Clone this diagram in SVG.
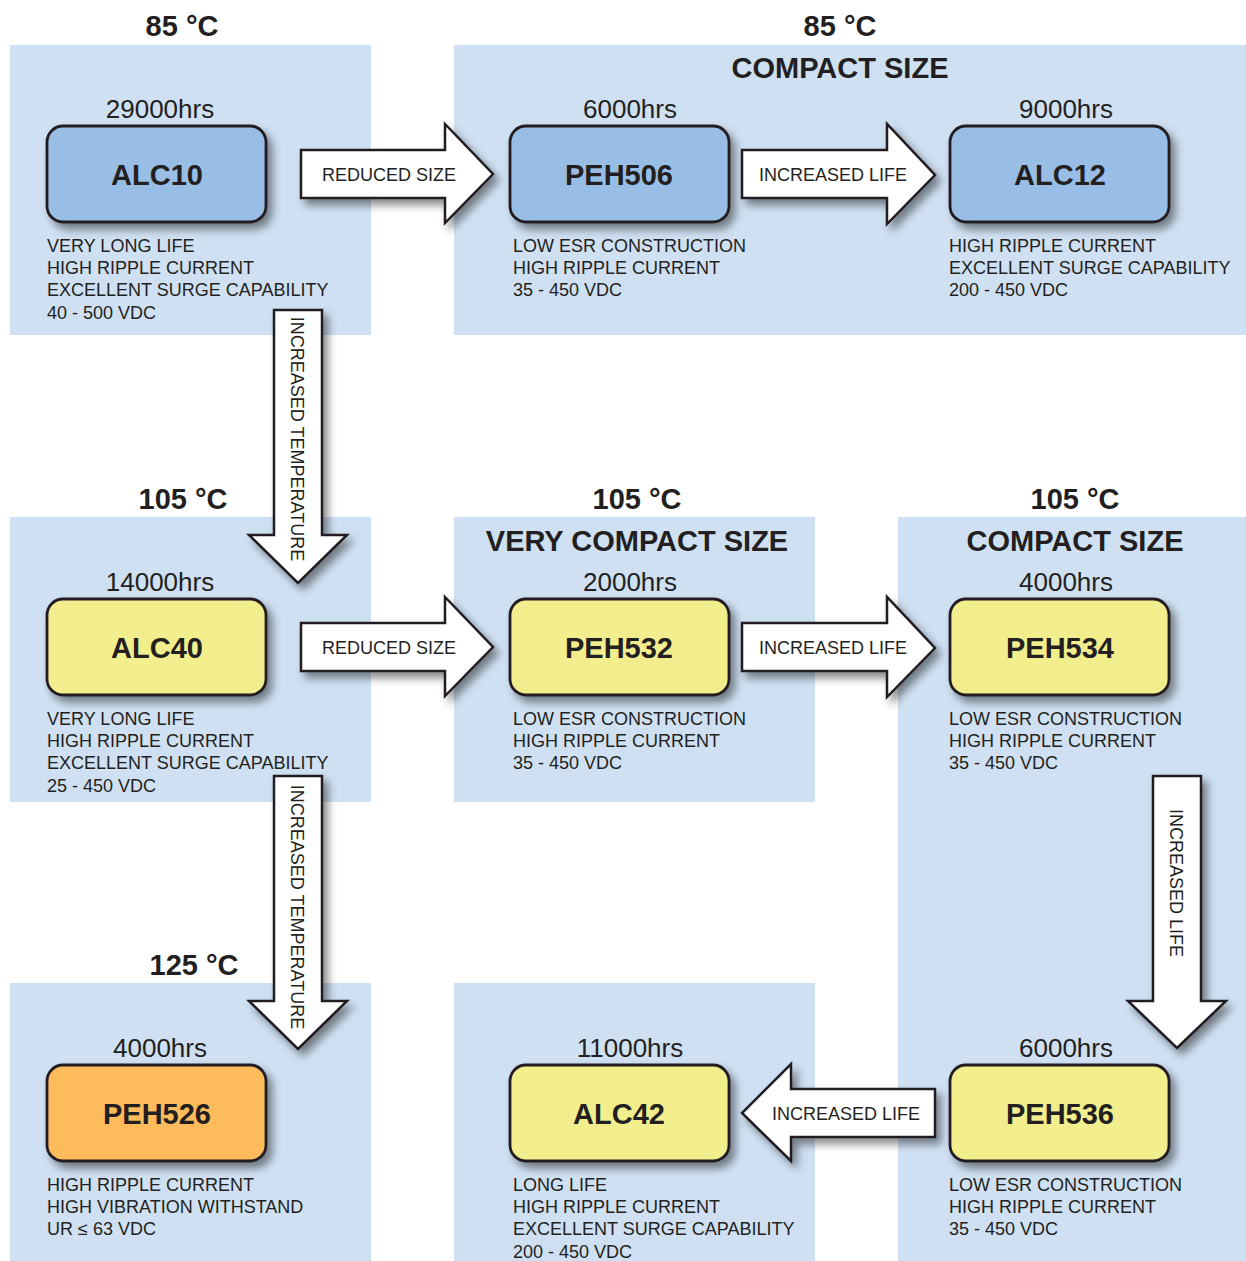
<svg xmlns="http://www.w3.org/2000/svg" width="1246" height="1261" viewBox="0 0 1246 1261">
<defs>
<filter id="sh" x="-20%" y="-20%" width="150%" height="150%">
<feDropShadow dx="5" dy="6" stdDeviation="4" flood-color="#000" flood-opacity="0.45"/>
</filter>
<style>
.panel{fill:#cee0f2}
.node{stroke:#231f20;stroke-width:2.8;filter:url(#sh)}
.blue{fill:#98bee5}
.yel{fill:#f2ee8e}
.org{fill:#fdbb5c}
.arr{fill:#fff;stroke:#231f20;stroke-width:2.5;stroke-linejoin:miter;filter:url(#sh)}
text{font-family:"Liberation Sans",Arial,Helvetica,sans-serif;fill:#231f20}
.hd{font-size:29px;font-weight:bold;text-anchor:middle}
.hrs{font-size:26px;text-anchor:middle}
.lbl{font-size:29px;font-weight:bold;text-anchor:middle}
.desc{font-size:18px}
.al{font-size:18px;text-anchor:middle}
</style>
</defs>
<rect width="1246" height="1261" fill="#fff"/>
<g id="panels">
<rect class="panel" x="10" y="45" width="361" height="290"/>
<rect class="panel" x="454" y="45" width="792" height="290"/>
<rect class="panel" x="10" y="517" width="361" height="285"/>
<rect class="panel" x="454" y="517" width="361" height="285"/>
<rect class="panel" x="898" y="517" width="348" height="744"/>
<rect class="panel" x="10" y="983" width="361" height="278"/>
<rect class="panel" x="454" y="983" width="361" height="278"/>
</g>
<g id="headers">
<text class="hd" x="182" y="36">85 °C</text>
<text class="hd" x="840" y="36">85 °C</text>
<text class="hd" x="840" y="78">COMPACT SIZE</text>
<text class="hd" x="183" y="509">105 °C</text>
<text class="hd" x="637" y="509">105 °C</text>
<text class="hd" x="637" y="551">VERY COMPACT SIZE</text>
<text class="hd" x="1075" y="509">105 °C</text>
<text class="hd" x="1075" y="551">COMPACT SIZE</text>
<text class="hd" x="194" y="975">125 °C</text>
</g>
<g id="connectors">
<g id="c1"><path class="arr" d="M301,150 H445 V124 L493,174 L445,223 V198 H301 Z"/><text class="al" x="389" y="181">REDUCED SIZE</text></g>
<g id="c2"><path class="arr" d="M742,150 H887 V124 L935,175 L887,224 V198 H742 Z"/><text class="al" x="833" y="181">INCREASED LIFE</text></g>
<g id="c3"><path class="arr" d="M301,623 H445 V597 L493,647 L445,696 V671 H301 Z"/><text class="al" x="389" y="654">REDUCED SIZE</text></g>
<g id="c4"><path class="arr" d="M742,623 H887 V597 L935,648 L887,697 V671 H742 Z"/><text class="al" x="833" y="654">INCREASED LIFE</text></g>
<g id="c5"><path class="arr" d="M274,310 H322 V535 H347 L298,583 L249,535 H274 Z"/><text class="al" transform="translate(291,439) rotate(90)">INCREASED TEMPERATURE</text></g>
<g id="c6"><path class="arr" d="M274,776 H322 V1001 H347 L298,1049 L249,1001 H274 Z"/><text class="al" transform="translate(291,907) rotate(90)">INCREASED TEMPERATURE</text></g>
<g id="c7"><path class="arr" d="M1153,776 H1201 V1001 H1226 L1177,1048 L1128,1001 H1153 Z"/><text class="al" transform="translate(1170,883) rotate(90)">INCREASED LIFE</text></g>
<g id="c8"><path class="arr" d="M935,1089 H791 V1064 L742,1113 L791,1161 V1137 H935 Z"/><text class="al" x="846" y="1120">INCREASED LIFE</text></g>
</g>
<g id="ALC10">
<text class="hrs" x="160" y="118">29000hrs</text>
<rect class="node blue" x="47" y="126" width="219" height="96" rx="16"/>
<text class="lbl" x="157" y="185">ALC10</text>
<text class="desc" x="47" y="252">VERY LONG LIFE</text>
<text class="desc" x="47" y="274">HIGH RIPPLE CURRENT</text>
<text class="desc" x="47" y="296">EXCELLENT SURGE CAPABILITY</text>
<text class="desc" x="47" y="319">40 - 500 VDC</text>
</g>
<g id="PEH506">
<text class="hrs" x="630" y="118">6000hrs</text>
<rect class="node blue" x="510" y="126" width="219" height="96" rx="16"/>
<text class="lbl" x="619" y="185">PEH506</text>
<text class="desc" x="513" y="252">LOW ESR CONSTRUCTION</text>
<text class="desc" x="513" y="274">HIGH RIPPLE CURRENT</text>
<text class="desc" x="513" y="296">35 - 450 VDC</text>
</g>
<g id="ALC12">
<text class="hrs" x="1066" y="118">9000hrs</text>
<rect class="node blue" x="950" y="126" width="219" height="96" rx="16"/>
<text class="lbl" x="1060" y="185">ALC12</text>
<text class="desc" x="949" y="252">HIGH RIPPLE CURRENT</text>
<text class="desc" x="949" y="274">EXCELLENT SURGE CAPABILITY</text>
<text class="desc" x="949" y="296">200 - 450 VDC</text>
</g>
<g id="ALC40">
<text class="hrs" x="160" y="591">14000hrs</text>
<rect class="node yel" x="47" y="599" width="219" height="96" rx="16"/>
<text class="lbl" x="157" y="658">ALC40</text>
<text class="desc" x="47" y="725">VERY LONG LIFE</text>
<text class="desc" x="47" y="747">HIGH RIPPLE CURRENT</text>
<text class="desc" x="47" y="769">EXCELLENT SURGE CAPABILITY</text>
<text class="desc" x="47" y="792">25 - 450 VDC</text>
</g>
<g id="PEH532">
<text class="hrs" x="630" y="591">2000hrs</text>
<rect class="node yel" x="510" y="599" width="219" height="96" rx="16"/>
<text class="lbl" x="619" y="658">PEH532</text>
<text class="desc" x="513" y="725">LOW ESR CONSTRUCTION</text>
<text class="desc" x="513" y="747">HIGH RIPPLE CURRENT</text>
<text class="desc" x="513" y="769">35 - 450 VDC</text>
</g>
<g id="PEH534">
<text class="hrs" x="1066" y="591">4000hrs</text>
<rect class="node yel" x="950" y="599" width="219" height="96" rx="16"/>
<text class="lbl" x="1060" y="658">PEH534</text>
<text class="desc" x="949" y="725">LOW ESR CONSTRUCTION</text>
<text class="desc" x="949" y="747">HIGH RIPPLE CURRENT</text>
<text class="desc" x="949" y="769">35 - 450 VDC</text>
</g>
<g id="PEH526">
<text class="hrs" x="160" y="1057">4000hrs</text>
<rect class="node org" x="47" y="1065" width="219" height="96" rx="16"/>
<text class="lbl" x="157" y="1124">PEH526</text>
<text class="desc" x="47" y="1191">HIGH RIPPLE CURRENT</text>
<text class="desc" x="47" y="1213">HIGH VIBRATION WITHSTAND</text>
<text class="desc" x="47" y="1235">UR ≤ 63 VDC</text>
</g>
<g id="ALC42">
<text class="hrs" x="630" y="1057">11000hrs</text>
<rect class="node yel" x="510" y="1065" width="219" height="96" rx="16"/>
<text class="lbl" x="619" y="1124">ALC42</text>
<text class="desc" x="513" y="1191">LONG LIFE</text>
<text class="desc" x="513" y="1213">HIGH RIPPLE CURRENT</text>
<text class="desc" x="513" y="1235">EXCELLENT SURGE CAPABILITY</text>
<text class="desc" x="513" y="1258">200 - 450 VDC</text>
</g>
<g id="PEH536">
<text class="hrs" x="1066" y="1057">6000hrs</text>
<rect class="node yel" x="950" y="1065" width="219" height="96" rx="16"/>
<text class="lbl" x="1060" y="1124">PEH536</text>
<text class="desc" x="949" y="1191">LOW ESR CONSTRUCTION</text>
<text class="desc" x="949" y="1213">HIGH RIPPLE CURRENT</text>
<text class="desc" x="949" y="1235">35 - 450 VDC</text>
</g>
</svg>
